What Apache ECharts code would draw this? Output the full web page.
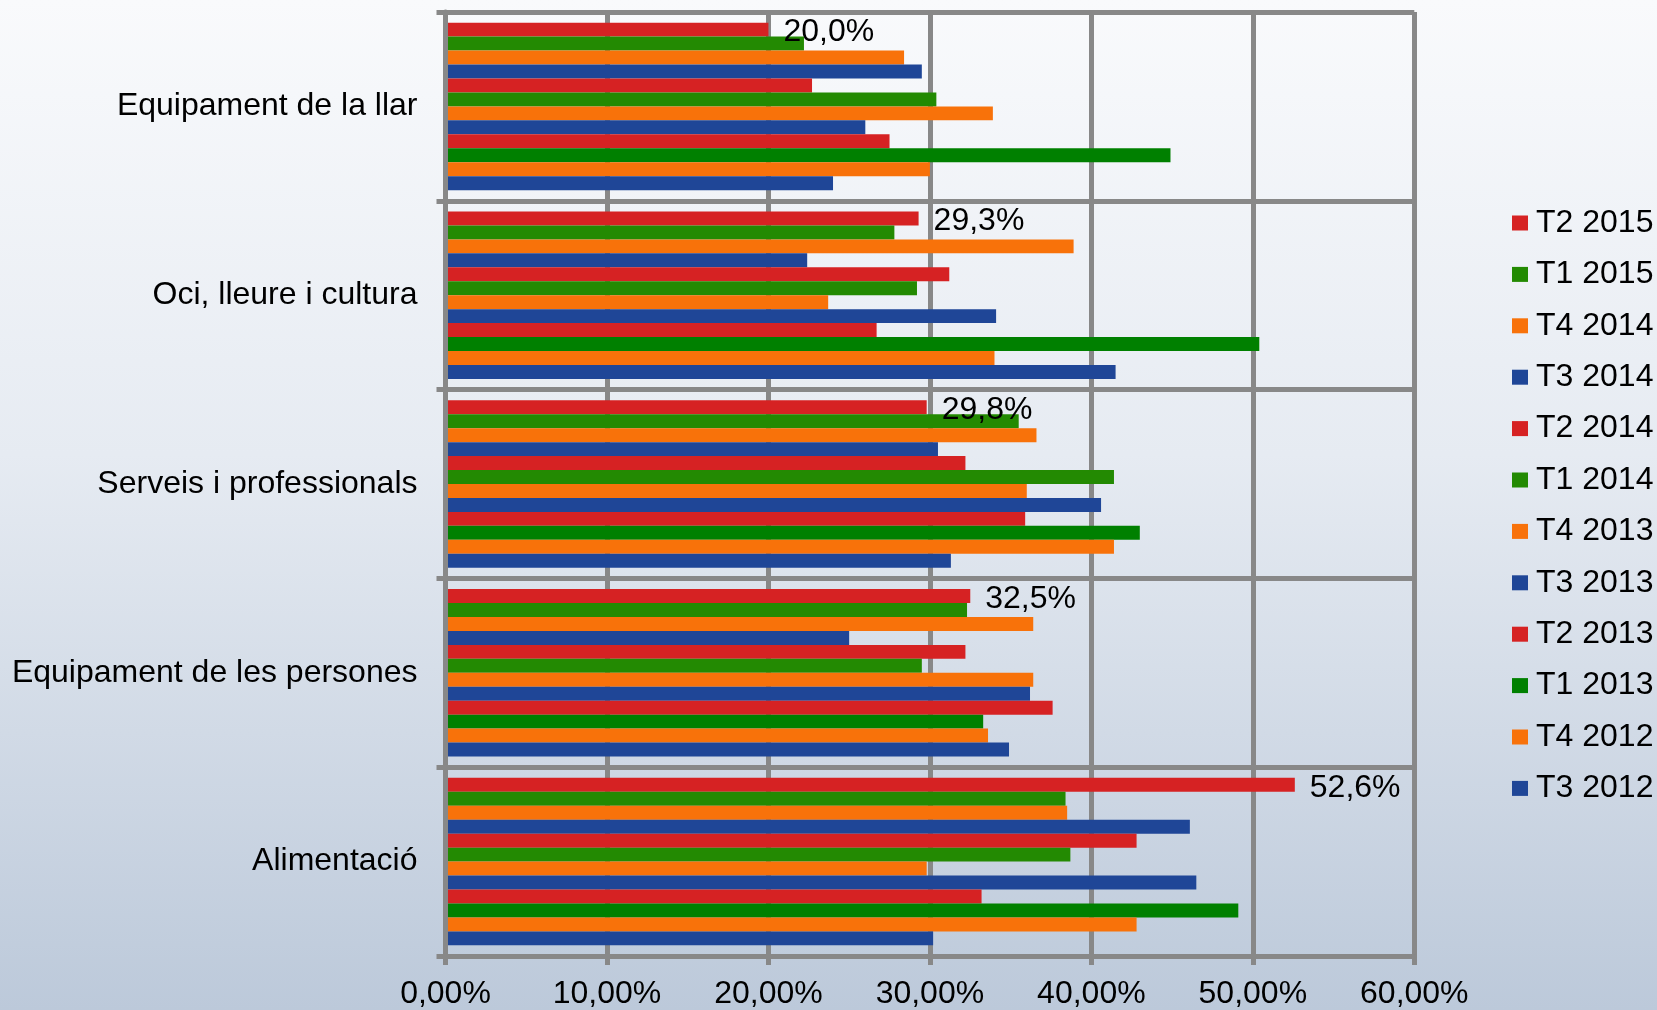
<!DOCTYPE html>
<html>
<head>
<meta charset="utf-8">
<script src="https://cdn.jsdelivr.net/npm/echarts@6/dist/echarts.min.js"></script>
<style>
html,body{margin:0;padding:0;width:1657px;height:1010px;overflow:hidden;}
#c{width:1657px;height:1010px;background:linear-gradient(to bottom,#F9FAFC 0%,#E6EBF2 45%,#BCC9DA 100%);}
</style>
</head>
<body>
<div id="c"></div>
<script>
// categories bottom to top
var categories = ['Alimentació', 'Equipament de les persones', 'Serveis i professionals', 'Oci, lleure i cultura', 'Equipament de la llar'];
var seriesNames = ['T2 2015', 'T1 2015', 'T4 2014', 'T3 2014', 'T2 2014', 'T1 2014', 'T4 2013', 'T3 2013', 'T2 2013', 'T1 2013', 'T4 2012', 'T3 2012'];
var seriesColors = ['#D62223', '#238A02', '#F8720A', '#1F4697', '#D62223', '#238A02', '#F8720A', '#1F4697', '#D62223', '#008000', '#F8720A', '#1F4697'];
// values (%) in category order: Alimentació, Equip. persones, Serveis, Oci, Equip. llar
var t2_2015 = [52.6, 32.5, 29.8, 29.3, 20.0];
var t1_2015 = [38.4, 32.3, 35.5, 27.8, 22.2];
var t4_2014 = [38.5, 36.4, 36.6, 38.9, 28.4];
var t3_2014 = [46.1, 25.0, 30.5, 22.4, 29.5];
var t2_2014 = [42.8, 32.2, 32.2, 31.2, 22.7];
var t1_2014 = [38.7, 29.5, 41.4, 29.2, 30.4];
var t4_2013 = [29.8, 36.4, 36.0, 23.7, 33.9];
var t3_2013 = [46.5, 36.2, 40.6, 34.1, 26.0];
var t2_2013 = [33.2, 37.6, 35.9, 26.7, 27.5];
var t1_2013 = [49.1, 33.3, 43.0, 50.4, 44.9];
var t4_2012 = [42.8, 33.6, 41.4, 34.0, 30.0];
var t3_2012 = [30.2, 34.9, 31.3, 41.5, 24.0];
var xTicks = [0, 10, 20, 30, 40, 50, 60];

var allValues = [t2_2015, t1_2015, t4_2014, t3_2014, t2_2014, t1_2014, t4_2013, t3_2013, t2_2013, t1_2013, t4_2012, t3_2012];
var FONT = 'Liberation Sans, Arial, sans-serif';
var gridColor = '#888888';
var LW = 5;

var series = allValues.map(function (vals, i) {
  var s = {
    name: seriesNames[i],
    type: 'bar',
    data: vals,
    barGap: '0%',
    barCategoryGap: '11.3%',
    itemStyle: { color: seriesColors[i] },
    emphasis: { disabled: true },
    animation: false
  };
  if (i === 0) {
    s.label = {
      show: true, position: 'right', distance: 15, offset: [0, 3],
      fontFamily: FONT, fontSize: 32, color: '#000',
      formatter: function (p) { return p.value.toFixed(1).replace('.', ',') + '%'; }
    };
  }
  return s;
});

var chart = echarts.init(document.getElementById('c'), null, { renderer: 'canvas' });
chart.setOption({
  backgroundColor: 'transparent',
  animation: false,
  grid: { left: 445.5, right: 242.7, top: 12, bottom: 54, containLabel: false },
  legend: {
    orient: 'vertical',
    left: 1507, top: 202,
    itemWidth: 16, itemHeight: 15, itemGap: 19.4,
    icon: 'rect',
    data: seriesNames,
    textStyle: { fontFamily: FONT, fontSize: 32, color: '#000', lineHeight: 32, padding: [0, 0, 0, 3] },
    selectedMode: false
  },
  xAxis: {
    type: 'value', min: xTicks[0], max: xTicks[xTicks.length - 1], interval: 10,
    axisLine: { show: true, lineStyle: { color: gridColor, width: LW } },
    axisTick: { show: true, length: 9, lineStyle: { color: gridColor, width: LW } },
    axisLabel: {
      fontFamily: FONT, fontSize: 32, color: '#000', margin: 22,
      formatter: function (v) { return v.toFixed(2).replace('.', ',') + '%'; }
    },
    splitLine: { show: true, lineStyle: { color: gridColor, width: LW } }
  },
  yAxis: {
    type: 'category', data: categories, z: 3,
    axisLine: { show: true, lineStyle: { color: gridColor, width: LW } },
    axisTick: { show: true, length: 9, lineStyle: { color: gridColor, width: LW } },
    axisLabel: { fontFamily: FONT, fontSize: 32, color: '#000', margin: 28 },
    splitLine: { show: true, lineStyle: { color: gridColor, width: LW } }
  },
  series: series
});
</script>
</body>
</html>
